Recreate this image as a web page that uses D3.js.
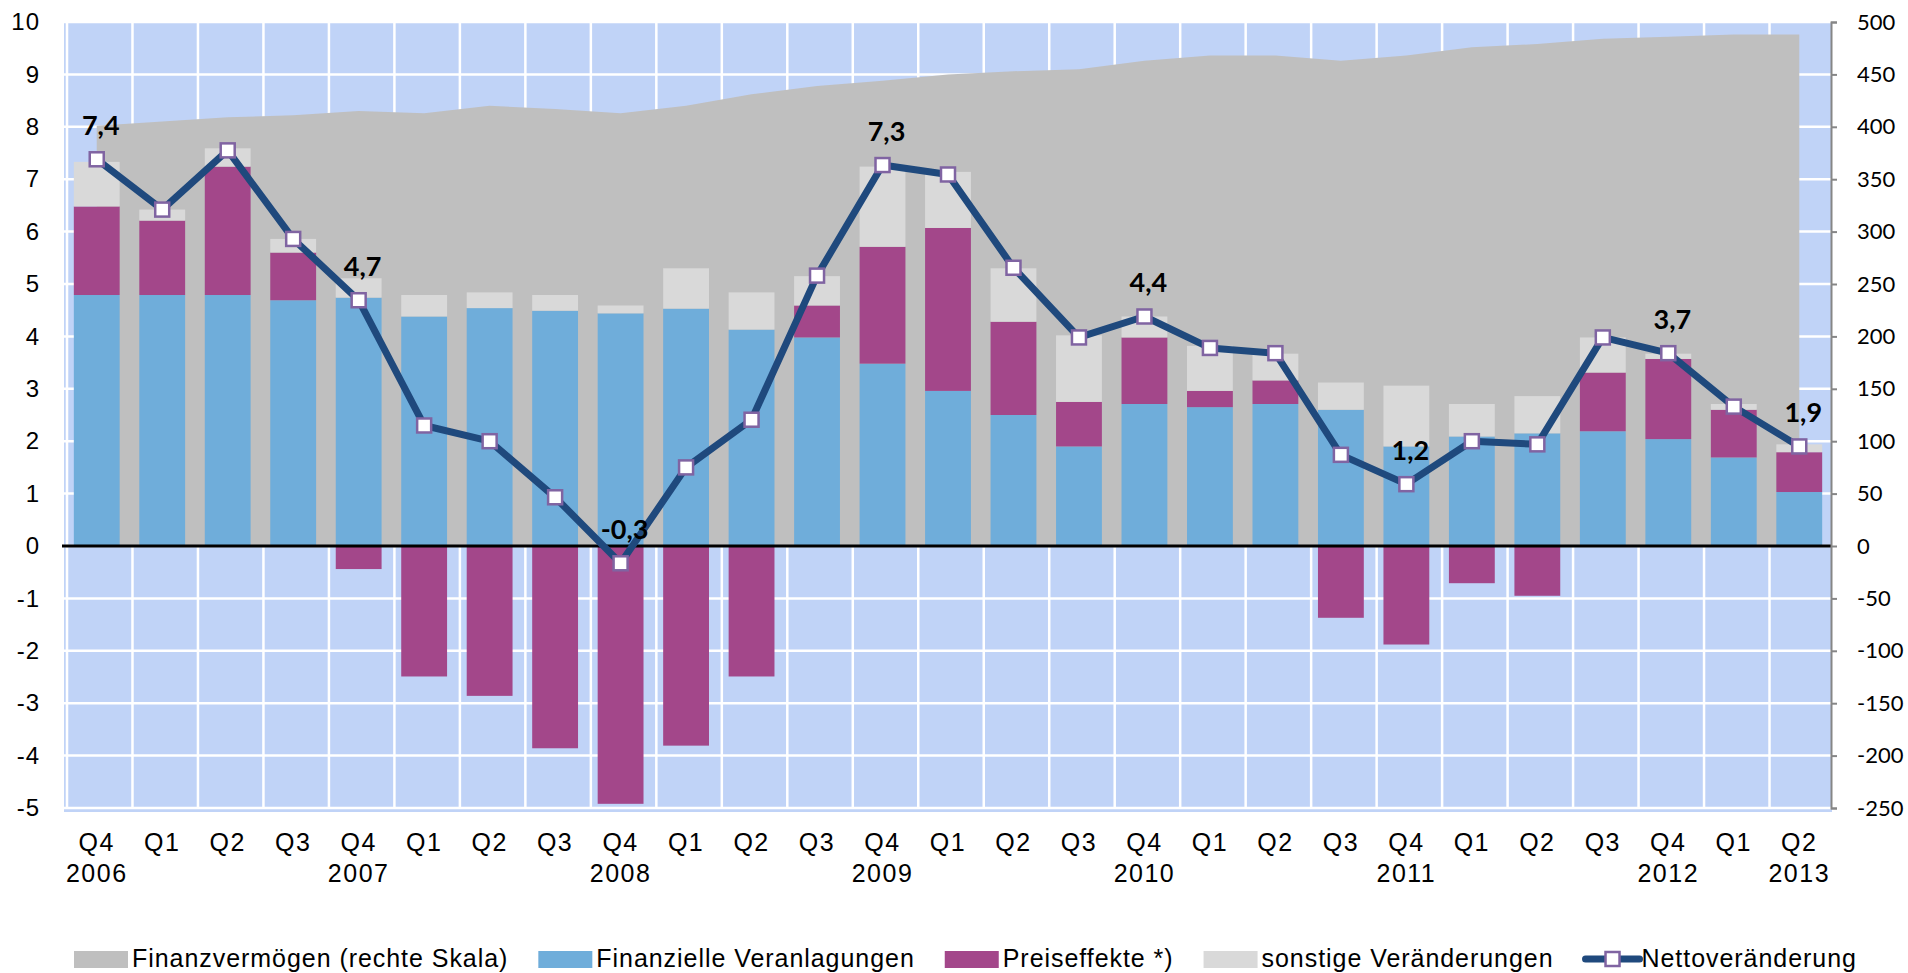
<!DOCTYPE html>
<html>
<head>
<meta charset="utf-8">
<script src="https://cdn.jsdelivr.net/npm/d3@7"></script>
<style>
  body { margin: 0; background: #ffffff; }
  svg { display: block; }
</style>
</head>
<body>
<script>
// Quarter labels and the year printed under some of them
var quarters = ["Q4","Q1","Q2","Q3","Q4","Q1","Q2","Q3","Q4","Q1","Q2","Q3","Q4","Q1",
  "Q2","Q3","Q4","Q1","Q2","Q3","Q4","Q1","Q2","Q3","Q4","Q1","Q2"];
var years = ["2006","","","","2007","","","","2008","","","","2009","","","","2010",
  "","","","2011","","","","2012","","2013"];

// Finanzvermögen (right scale)
var vermoegen = [401, 405, 409, 411, 415, 413, 420, 417, 413, 420, 431, 439, 444, 450,
  453, 455, 463, 468, 468, 463, 468, 476, 479, 484, 486, 488, 488];
// stacked components (left scale)
var veranlagungen = [4.79, 4.79, 4.79, 4.69, 4.74, 4.38, 4.54, 4.49, 4.44, 4.53, 4.13, 3.98,
  3.48, 2.96, 2.50, 1.90, 2.71, 2.65, 2.71, 2.60, 1.90, 2.09, 2.15, 2.19, 2.04, 1.69, 1.03];
var preiseffekte = [1.69, 1.42, 2.45, 0.91, -0.44, -2.49, -2.86, -3.86, -4.92, -3.81, -2.49, 0.61,
  2.23, 3.11, 1.78, 0.85, 1.27, 0.31, 0.45, -1.37, -1.88, -0.71, -0.95, 1.12, 1.53, 0.91, 0.76];
var sonstige = [0.85, 0.21, 0.35, 0.26, 0.37, 0.41, 0.30, 0.30, 0.15, 0.77, 0.71, 0.56,
  1.53, 1.07, 1.02, 1.27, 0.40, 0.86, 0.51, 0.52, 1.16, 0.62, 0.71, 0.67, 0.10, 0.11, 0.15];
var netto = [7.38, 6.42, 7.55, 5.86, 4.69, 2.30, 2.00, 0.93, -0.33, 1.50, 2.41, 5.16,
  7.27, 7.09, 5.31, 3.98, 4.38, 3.78, 3.68, 1.74, 1.18, 2.00, 1.94, 3.98, 3.68, 2.66, 1.90];
// which points get a value label
var labelled = [0, 4, 8, 12, 16, 20, 24, 26];

var legendNames = ["Finanzvermögen (rechte Skala)", "Finanzielle Veranlagungen",
  "Preiseffekte *)", "sonstige Veränderungen", "Nettoveränderung"];

var colors = {
  bg: "#c0d3f7", area: "#bfbfbf", fin: "#6fadda", preis: "#a3478a",
  sonst: "#d9d9d9", line: "#1f497d", marker: "#8064a2"
};

var svgWidth = 1908;
var svgHeight = 973;
var plot = {left: 64, right: 1832, top: 22, bottom: 808};

var svg = d3.select("body")
  .append("svg")
  .attr("width", svgWidth)
  .attr("height", svgHeight);

var idx = d3.range(quarters.length);

var x = d3.scaleBand()
  .domain(idx)
  .range([plot.left, plot.right])
  .paddingInner(0.3)
  .paddingOuter(0.15);
var step = x.step();
var cx = function(i) { return x(i) + x.bandwidth() / 2; };

var yL = d3.scaleLinear().domain([-5, 10]).range([plot.bottom, plot.top]);
var yR = d3.scaleLinear().domain([-250, 500]).range([plot.bottom, plot.top]);

// plot background
svg.append("rect")
  .attr("x", plot.left)
  .attr("y", plot.top - 1)
  .attr("width", plot.right - plot.left)
  .attr("height", plot.bottom - plot.top + 5)
  .attr("fill", colors.bg);

// white grid: horizontal at each unit, vertical at category boundaries
var grid = svg.append("g").attr("stroke", "#ffffff").attr("stroke-width", 2.5);
grid.selectAll("line.h")
  .data(d3.range(-5, 11))
  .enter()
  .append("line")
  .attr("class", "h")
  .attr("x1", plot.left)
  .attr("x2", plot.right)
  .attr("y1", d => yL(d))
  .attr("y2", d => yL(d));
grid.selectAll("line.v")
  .data(d3.range(quarters.length + 1))
  .enter()
  .append("line")
  .attr("class", "v")
  .attr("x1", d => plot.left + 3 + d * step)
  .attr("x2", d => plot.left + 3 + d * step)
  .attr("y1", plot.top)
  .attr("y2", plot.bottom);

// Finanzvermögen area on the right scale
var area = d3.area()
  .x(i => cx(i))
  .y0(yR(0))
  .y1(i => yR(vermoegen[i]));
svg.append("path")
  .datum(idx)
  .attr("d", area)
  .attr("fill", colors.area);

// stacked bars, positives and negatives stacked apart
var rows = idx.map(function(i) {
  return {i: i, fin: veranlagungen[i], preis: preiseffekte[i], sonst: sonstige[i]};
});
var stack = d3.stack()
  .keys(["fin", "preis", "sonst"])
  .offset(d3.stackOffsetDiverging);
var series = stack(rows);

svg.append("g")
  .selectAll("g")
  .data(series)
  .enter()
  .append("g")
  .attr("fill", d => colors[d.key])
  .selectAll("rect")
  .data(d => d)
  .enter()
  .append("rect")
  .attr("x", d => x(d.data.i))
  .attr("width", x.bandwidth())
  .attr("y", d => yL(Math.max(d[0], d[1])))
  .attr("height", d => Math.abs(yL(d[0]) - yL(d[1])));

// zero line
svg.append("line")
  .attr("x1", plot.left - 2)
  .attr("x2", plot.right)
  .attr("y1", yL(0))
  .attr("y2", yL(0))
  .attr("stroke", "#000000")
  .attr("stroke-width", 3);

// left axis labels
var leftAxis = d3.axisLeft(yL)
  .tickValues(d3.range(-5, 11))
  .tickSize(0)
  .tickPadding(24)
  .tickFormat(d => String(d));
svg.append("g")
  .attr("transform", `translate(${plot.left}, 0)`)
  .call(leftAxis)
  .call(g => g.select(".domain").remove())
  .selectAll("text")
  .style("font-family", "'Liberation Sans', Arial, sans-serif")
  .style("font-size", "24px")
  .style("letter-spacing", "1px")
  .attr("fill", "#000000");

// right axis
var rightAxis = d3.axisRight(yR)
  .tickValues(d3.range(-250, 501, 50))
  .tickSize(6)
  .tickSizeOuter(6)
  .tickPadding(20)
  .tickFormat(d => String(d));
var rg = svg.append("g")
  .attr("transform", `translate(${plot.right - 1}, 0)`)
  .call(rightAxis);
rg.select(".domain").attr("stroke", "#868686").attr("stroke-width", 2);
rg.selectAll(".tick line").attr("stroke", "#868686").attr("stroke-width", 2);
rg.selectAll("text")
  .style("font-family", "Lato, 'Open Sans', sans-serif")
  .style("font-size", "22px")
  .attr("fill", "#000000");

// category labels
var xl = svg.append("g")
  .style("font-family", "'Liberation Sans', Arial, sans-serif")
  .style("font-size", "25px")
  .style("letter-spacing", "1.5px")
  .attr("text-anchor", "middle");
xl.selectAll("text.q")
  .data(idx)
  .enter()
  .append("text")
  .attr("class", "q")
  .attr("x", i => cx(i))
  .attr("y", 851)
  .text(i => quarters[i]);
xl.selectAll("text.yr")
  .data(idx.filter(i => years[i] !== ""))
  .enter()
  .append("text")
  .attr("class", "yr")
  .attr("x", i => cx(i))
  .attr("y", 882)
  .text(i => years[i]);

// Nettoveränderung line with square markers
var line = d3.line()
  .x(i => cx(i))
  .y(i => yL(netto[i]));
svg.append("path")
  .datum(idx)
  .attr("d", line)
  .attr("fill", "none")
  .attr("stroke", colors.line)
  .attr("stroke-width", 7)
  .attr("stroke-linejoin", "round");

svg.append("g")
  .selectAll("rect")
  .data(idx)
  .enter()
  .append("rect")
  .attr("x", i => cx(i) - 7)
  .attr("y", i => yL(netto[i]) - 7)
  .attr("width", 14)
  .attr("height", 14)
  .attr("fill", "#ffffff")
  .attr("stroke", colors.marker)
  .attr("stroke-width", 2.5);

// value labels, decimal comma and plain hyphen
var fmt = d3.format(".1f");
svg.append("g")
  .selectAll("text")
  .data(labelled)
  .enter()
  .append("text")
  .attr("x", i => cx(i) + 4)
  .attr("y", i => yL(netto[i]) - 24)
  .attr("text-anchor", "middle")
  .style("font-family", "Lato, 'Open Sans', sans-serif")
  .style("font-weight", "bold")
  .style("font-size", "27px")
  .text(i => fmt(netto[i]).replace("\u2212", "-").replace(".", ","));

// legend
var swatchFill = [colors.area, colors.fin, colors.preis, colors.sonst, null];
var legend = svg.append("g")
  .style("font-family", "'Liberation Sans', Arial, sans-serif")
  .style("font-size", "25px")
  .style("letter-spacing", "0.95px");
var lx = 74;
legendNames.forEach(function(name, k) {
  if (swatchFill[k]) {
    legend.append("rect")
      .attr("x", lx)
      .attr("y", 951)
      .attr("width", 54)
      .attr("height", 17)
      .attr("fill", swatchFill[k]);
  } else {
    legend.append("line")
      .attr("x1", lx + 2)
      .attr("x2", lx + 56)
      .attr("y1", 959)
      .attr("y2", 959)
      .attr("stroke", colors.line)
      .attr("stroke-width", 7)
      .attr("stroke-linecap", "round");
    legend.append("rect")
      .attr("x", lx + 22)
      .attr("y", 952)
      .attr("width", 14)
      .attr("height", 14)
      .attr("fill", "#ffffff")
      .attr("stroke", colors.marker)
      .attr("stroke-width", 2.5);
  }
  var t = legend.append("text")
    .attr("x", lx + 58)
    .attr("y", 967)
    .text(name);
  lx = lx + 58 + t.node().getComputedTextLength() + 30;
});
</script>
</body>
</html>
